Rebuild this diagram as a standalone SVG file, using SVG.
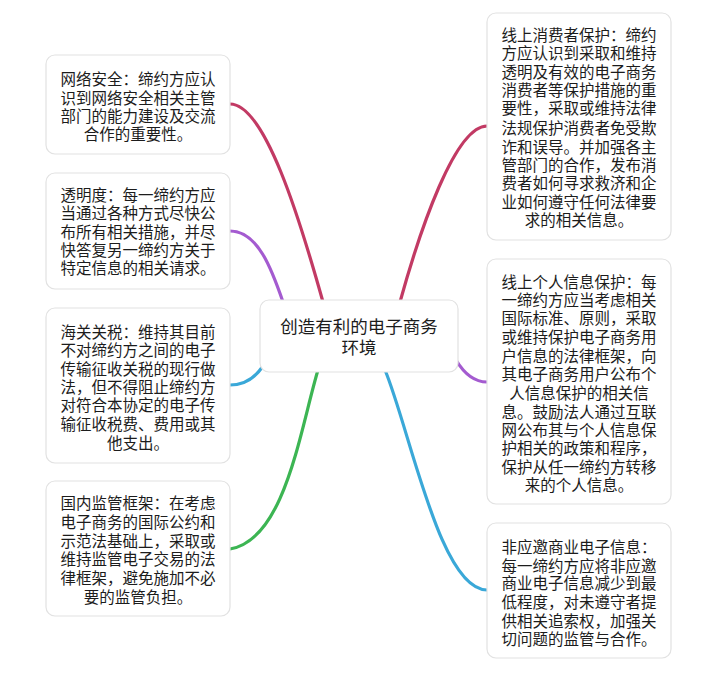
<svg xmlns="http://www.w3.org/2000/svg" width="710" height="695" viewBox="0 0 710 695">
<style>
.box{fill:#fff;stroke:#e2e2e2;stroke-width:1.2}
.t{font-family:"Liberation Sans","Noto Sans CJK SC",sans-serif;font-size:15.5px;fill:#1c1c1c;text-anchor:middle}
.c{font-size:17.5px}
.ln{fill:none;stroke-width:3.2;stroke-linecap:round}
.red{stroke:#c23a64}.pur{stroke:#a45bd0}.blu{stroke:#3aa8d8}.grn{stroke:#3cb553}
</style>
<rect width="710" height="695" fill="#fff"/>
<g id="connectors">
<path class="ln red" d="M230 104 C265 104,300 220,323 302"/>
<path class="ln red" d="M487 126 C455 126,420 230,400 302"/>
<path class="ln pur" d="M230 231 C258 231,272 270,283 302"/>
<path class="ln blu" d="M230 385 C245 385,255 378,263 366"/>
<path class="ln grn" d="M318 370 C300 430,285 540,230 549"/>
<path class="ln pur" d="M456 360 C465 375,475 382,487 382"/>
<path class="ln blu" d="M385 370 C410 430,440 590,487 590"/>
</g>
<g id="center">
<rect class="box" x="260" y="300" width="198" height="72" rx="9"/>
<text class="t c" x="359"><tspan x="359" y="333">创造有利的电子商务</tspan><tspan x="359" y="354">环境</tspan></text>
</g>
<g id="n1">
<rect class="box" x="46" y="55" width="184" height="99" rx="9"/>
<text class="t"><tspan x="138" y="84.5">网络安全：缔约方应认</tspan><tspan x="138" y="103.5">识到网络安全相关主管</tspan><tspan x="138" y="121.5">部门的能力建设及交流</tspan><tspan x="138" y="139.5">合作的重要性。</tspan></text>
</g>
<g id="n2">
<rect class="box" x="46" y="173" width="184" height="116" rx="9"/>
<text class="t"><tspan x="138" y="200.5">透明度：每一缔约方应</tspan><tspan x="138" y="218.5">当通过各种方式尽快公</tspan><tspan x="138" y="237.5">布所有相关措施，并尽</tspan><tspan x="138" y="255.5">快答复另一缔约方关于</tspan><tspan x="138" y="273.5">特定信息的相关请求。</tspan></text>
</g>
<g id="n3">
<rect class="box" x="46" y="308" width="184" height="155" rx="9"/>
<text class="t"><tspan x="138" y="337.5">海关关税：维持其目前</tspan><tspan x="138" y="355.5">不对缔约方之间的电子</tspan><tspan x="138" y="374.5">传输征收关税的现行做</tspan><tspan x="138" y="392.5">法，但不得阻止缔约方</tspan><tspan x="138" y="410.5">对符合本协定的电子传</tspan><tspan x="138" y="429.5">输征收税费、费用或其</tspan><tspan x="138" y="448.5">他支出。</tspan></text>
</g>
<g id="n4">
<rect class="box" x="46" y="481" width="184" height="135" rx="9"/>
<text class="t"><tspan x="138" y="508.5">国内监管框架：在考虑</tspan><tspan x="138" y="527.5">电子商务的国际公约和</tspan><tspan x="138" y="546.5">示范法基础上，采取或</tspan><tspan x="138" y="564.5">维持监管电子交易的法</tspan><tspan x="138" y="583.5">律框架，避免施加不必</tspan><tspan x="138" y="602.5">要的监管负担。</tspan></text>
</g>
<g id="n5">
<rect class="box" x="487" y="13" width="184" height="227" rx="9"/>
<text class="t"><tspan x="579" y="40.5">线上消费者保护：缔约</tspan><tspan x="579" y="58.5">方应认识到采取和维持</tspan><tspan x="579" y="77.5">透明及有效的电子商务</tspan><tspan x="579" y="95.5">消费者等保护措施的重</tspan><tspan x="579" y="113.5">要性，采取或维持法律</tspan><tspan x="579" y="133.5">法规保护消费者免受欺</tspan><tspan x="579" y="152.5">诈和误导。并加强各主</tspan><tspan x="579" y="170.5">管部门的合作，发布消</tspan><tspan x="579" y="188.5">费者如何寻求救济和企</tspan><tspan x="579" y="207.5">业如何遵守任何法律要</tspan><tspan x="579" y="225.5">求的相关信息。</tspan></text>
</g>
<g id="n6">
<rect class="box" x="487" y="259" width="184" height="245" rx="9"/>
<text class="t"><tspan x="579" y="287.5">线上个人信息保护：每</tspan><tspan x="579" y="305.5">一缔约方应当考虑相关</tspan><tspan x="579" y="323.5">国际标准、原则，采取</tspan><tspan x="579" y="342.5">或维持保护电子商务用</tspan><tspan x="579" y="361.5">户信息的法律框架，向</tspan><tspan x="579" y="379.5">其电子商务用户公布个</tspan><tspan x="579" y="398.5">人信息保护的相关信</tspan><tspan x="579" y="417.5">息。鼓励法人通过互联</tspan><tspan x="579" y="435.5">网公布其与个人信息保</tspan><tspan x="579" y="453.5">护相关的政策和程序，</tspan><tspan x="579" y="472.5">保护从任一缔约方转移</tspan><tspan x="579" y="490.5">来的个人信息。</tspan></text>
</g>
<g id="n7">
<rect class="box" x="487" y="523" width="184" height="135" rx="9"/>
<text class="t"><tspan x="579" y="552.5">非应邀商业电子信息：</tspan><tspan x="579" y="571.5">每一缔约方应将非应邀</tspan><tspan x="579" y="588.5">商业电子信息减少到最</tspan><tspan x="579" y="607.5">低程度，对未遵守者提</tspan><tspan x="579" y="626.5">供相关追索权，加强关</tspan><tspan x="579" y="644.5">切问题的监管与合作。</tspan></text>
</g>
</svg>
